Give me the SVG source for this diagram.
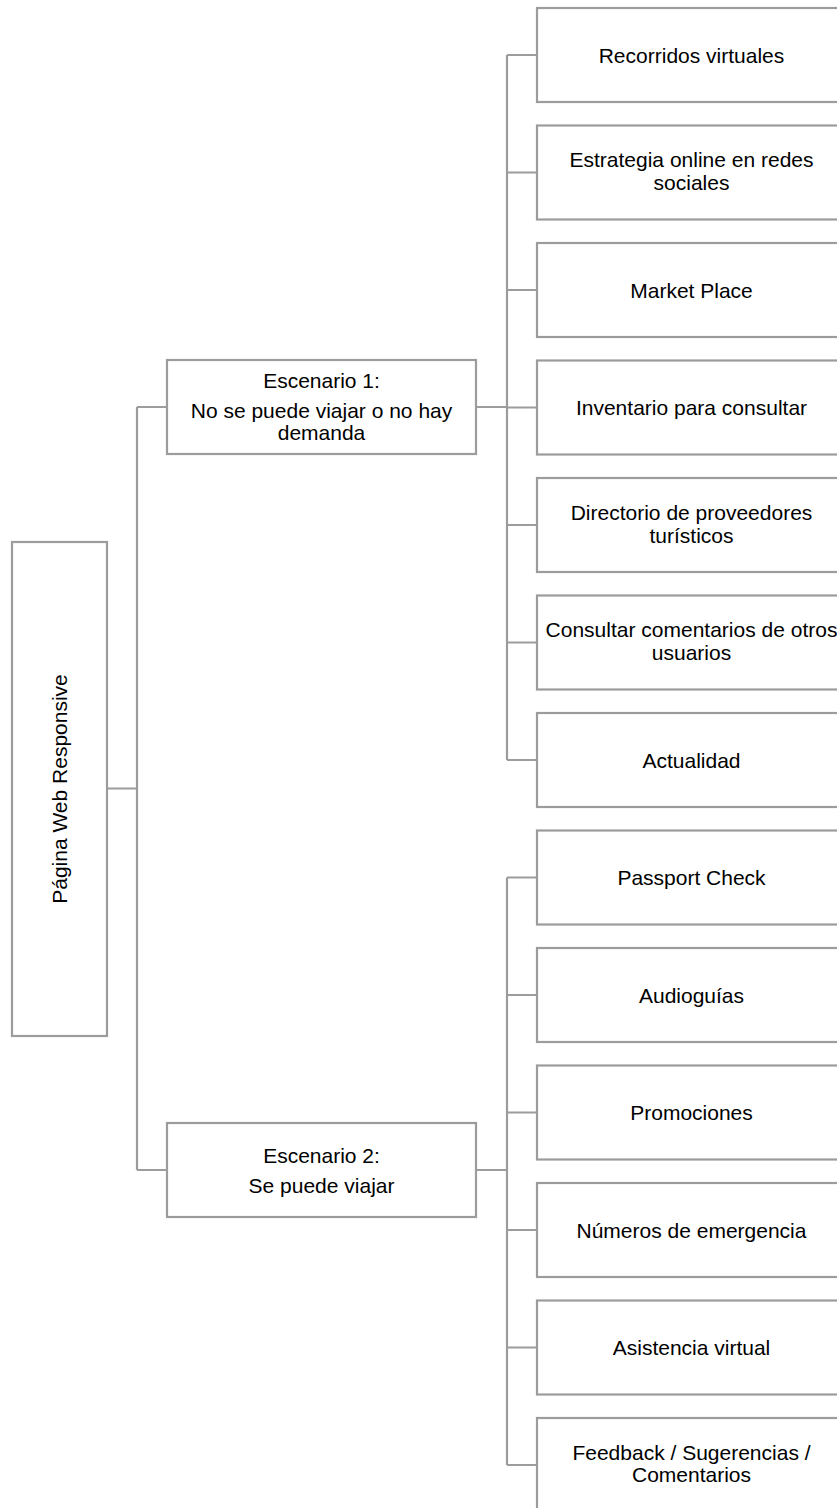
<svg xmlns="http://www.w3.org/2000/svg" width="837" height="1508" viewBox="0 0 837 1508">
<style>
.box{fill:#fff;stroke:#9c9c9c;stroke-width:2.2}
.ln{fill:none;stroke:#9c9c9c;stroke-width:2.2}
text{font-family:"Liberation Sans",Arial,sans-serif;font-size:21px;fill:#000;text-anchor:middle}
</style>
<rect width="837" height="1508" fill="#fff"/>
<g id="connectors">
<path class="ln" d="M107 788.5H137M137 407V1170M137 407H167M137 1170H167"/>
<path class="ln" d="M476 407H507M507 55V760M507 55H537M507 172.5H537M507 290H537M507 407.5H537M507 525H537M507 642.5H537M507 760H537"/>
<path class="ln" d="M476 1170H507M507 877.5V1465M507 877.5H537M507 995H537M507 1112.5H537M507 1230H537M507 1347.5H537M507 1465H537"/>
</g>
<g id="root">
<rect class="box" x="12" y="542" width="95" height="494"/>
<text transform="translate(67 789) rotate(-90)">Página Web Responsive</text>
</g>
<g id="esc1">
<rect class="box" x="167" y="360" width="309" height="94"/>
<text x="321.5" y="388">Escenario 1:</text>
<text x="321.5" y="417.5">No se puede viajar o no hay</text>
<text x="321.5" y="440">demanda</text>
</g>
<g id="esc2">
<rect class="box" x="167" y="1123" width="309" height="94"/>
<text x="321.5" y="1163">Escenario 2:</text>
<text x="321.5" y="1193">Se puede viajar</text>
</g>
<g id="n1"><rect class="box" x="537" y="8" width="309" height="94"/><text x="691.5" y="62.5">Recorridos virtuales</text></g>
<g id="n2"><rect class="box" x="537" y="125.5" width="309" height="94"/><text x="691.5" y="167">Estrategia online en redes</text><text x="691.5" y="190">sociales</text></g>
<g id="n3"><rect class="box" x="537" y="243" width="309" height="94"/><text x="691.5" y="297.5">Market Place</text></g>
<g id="n4"><rect class="box" x="537" y="360.5" width="309" height="94"/><text x="691.5" y="415">Inventario para consultar</text></g>
<g id="n5"><rect class="box" x="537" y="478" width="309" height="94"/><text x="691.5" y="519.5">Directorio de proveedores</text><text x="691.5" y="542.5">turísticos</text></g>
<g id="n6"><rect class="box" x="537" y="595.5" width="309" height="94"/><text x="691.5" y="637">Consultar comentarios de otros</text><text x="691.5" y="660">usuarios</text></g>
<g id="n7"><rect class="box" x="537" y="713" width="309" height="94"/><text x="691.5" y="767.5">Actualidad</text></g>
<g id="n8"><rect class="box" x="537" y="830.5" width="309" height="94"/><text x="691.5" y="885">Passport Check</text></g>
<g id="n9"><rect class="box" x="537" y="948" width="309" height="94"/><text x="691.5" y="1002.5">Audioguías</text></g>
<g id="n10"><rect class="box" x="537" y="1065.5" width="309" height="94"/><text x="691.5" y="1120">Promociones</text></g>
<g id="n11"><rect class="box" x="537" y="1183" width="309" height="94"/><text x="691.5" y="1237.5">Números de emergencia</text></g>
<g id="n12"><rect class="box" x="537" y="1300.5" width="309" height="94"/><text x="691.5" y="1355">Asistencia virtual</text></g>
<g id="n13"><rect class="box" x="537" y="1418" width="309" height="94"/><text x="691.5" y="1459.5">Feedback / Sugerencias /</text><text x="691.5" y="1482">Comentarios</text></g>
</svg>
